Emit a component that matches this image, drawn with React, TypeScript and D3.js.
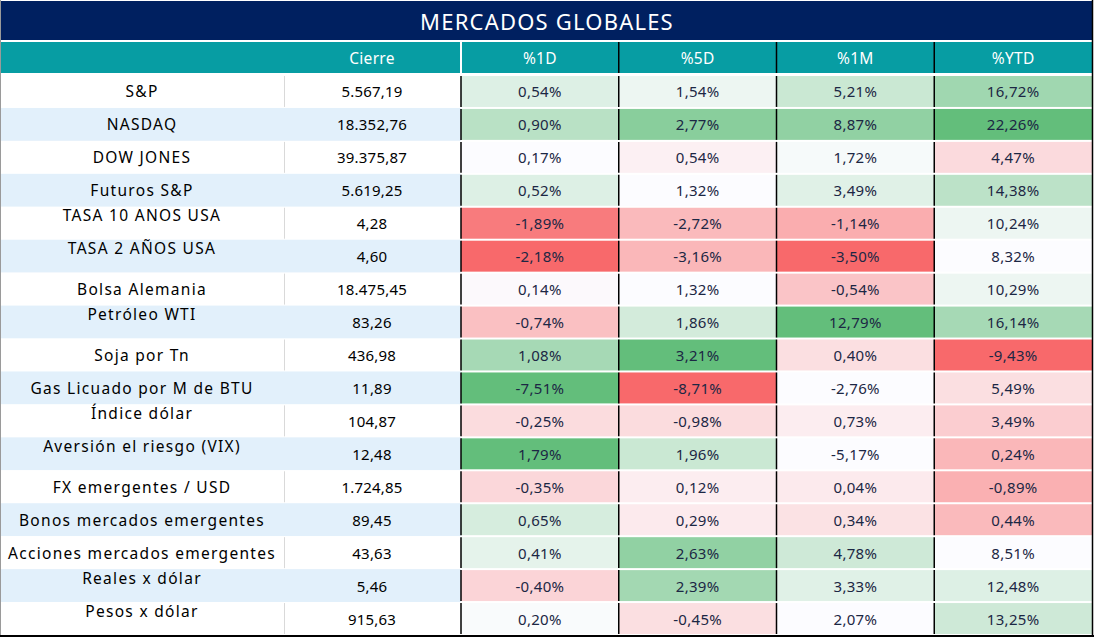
import React from 'react';
import * as d3 from 'd3';

const title = 'MERCADOS GLOBALES';
const closeHeader = 'Cierre';
const columns = ['%1D', '%5D', '%1M', '%YTD'];
const assets = [
  'S&P', 'NASDAQ', 'DOW JONES', 'Futuros S&P', 'TASA 10 ANOS USA', 'TASA 2 AÑOS USA',
  'Bolsa Alemania', 'Petróleo WTI', 'Soja por Tn', 'Gas Licuado por M de BTU', 'Índice dólar',
  'Aversión el riesgo (VIX)', 'FX emergentes / USD', 'Bonos mercados emergentes',
  'Acciones mercados emergentes', 'Reales x dólar', 'Pesos x dólar',
];
const closes = [5567.19, 18352.76, 39375.87, 5619.25, 4.28, 4.6, 18475.45, 83.26, 436.98, 11.89, 104.87, 12.48, 1724.85, 89.45, 43.63, 5.46, 915.63];
const chg1D = [0.54, 0.9, 0.17, 0.52, -1.89, -2.18, 0.14, -0.74, 1.08, -7.51, -0.25, 1.79, -0.35, 0.65, 0.41, -0.4, 0.2];
const chg5D = [1.54, 2.77, 0.54, 1.32, -2.72, -3.16, 1.32, 1.86, 3.21, -8.71, -0.98, 1.96, 0.12, 0.29, 2.63, 2.39, -0.45];
const chg1M = [5.21, 8.87, 1.72, 3.49, -1.14, -3.5, -0.54, 12.79, 0.4, -2.76, 0.73, -5.17, 0.04, 0.34, 4.78, 3.33, 2.07];
const chgYTD = [16.72, 22.26, 4.47, 14.38, 10.24, 8.32, 10.29, 16.14, -9.43, 5.49, 3.49, 0.24, -0.89, 0.44, 8.51, 12.48, 13.25];
// heat level (-1 red … 0 white … 1 green) of each cell
const heat1D = [0.2, 0.44, 0, 0.2, -0.88, -1, -0.02, -0.41, 0.56, 1, -0.22, 1, -0.25, 0.25, 0.15, -0.27, 0.02];
const heat5D = [0.1, 0.75, -0.08, 0, -0.45, -0.47, 0, 0.27, 1, -1, -0.22, 0.33, -0.1, -0.12, 0.7, 0.58, -0.2];
const heat1M = [0.33, 0.7, 0.04, 0.18, -0.54, -1, -0.38, 1, -0.2, 0, -0.1, 0, -0.12, -0.18, 0.3, 0.18, 0];
const heatYTD = [0.6, 1, -0.23, 0.42, 0.1, 0, 0.1, 0.56, -1, -0.2, -0.32, -0.47, -0.52, -0.45, 0, 0.2, 0.3];

const changes = [chg1D, chg5D, chg1M, chgYTD];
const heats = [heat1D, heat5D, heat1M, heatYTD];

const W = 1094;
const H = 637;
const raisedNames = new Set([4, 5, 7, 10, 11, 15, 16]);

const locale = d3.formatLocale({ decimal: ',', thousands: '.', grouping: [3], currency: ['', ''], minus: '-' });
const fmtClose = locale.format(',.2f');
const fmtPct = (v: number) => locale.format('.2f')(v) + '%';

const heatColor = d3.scaleLinear<string>().domain([-1, 0, 1]).range(['#F8696B', '#FCFCFF', '#63BE7B']).interpolate(d3.interpolateRgb);

export default function App() {
  const rows = d3.range(assets.length);
  const y = d3.scaleBand<number>().domain(rows).range([75, 635]).paddingInner(0);
  const x = d3.scaleBand<number>().domain(d3.range(columns.length)).range([461, 1092]).paddingInner(0);
  const rh = y.bandwidth();
  const nameX = 142;
  const closeX = 372;
  const nameFont = "'Noto Sans', sans-serif";
  const numFont = "'Noto Sans', sans-serif";

  return (
    <svg width={W} height={H} style={{ position: 'absolute', left: 0, top: 0, background: '#fff' }}>
      <rect x={0} y={0} width={W} height={H} fill="#fff" />
      {/* title */}
      <rect x={1} y={1} width={1091} height={39} fill="#002060" />
      <text x={547} y={21} fill="#fff" fontFamily={nameFont} fontSize={22} letterSpacing={1.2} textAnchor="middle" dominantBaseline="central">{title}</text>
      {/* header */}
      <rect x={1} y={42} width={1091} height={31} fill="#079DA3" />
      <text x={closeX} y={58} fill="#fff" fontFamily={numFont} fontSize={15.5} letterSpacing={0.3} textAnchor="middle" dominantBaseline="central">{closeHeader}</text>
      {columns.map((c, j) => (
        <text key={c} x={(x(j) as number) + x.bandwidth() / 2} y={58} fill="#fff" fontFamily={numFont} fontSize={15.5} letterSpacing={0.3} textAnchor="middle" dominantBaseline="central">{c}</text>
      ))}
      <line x1={461} x2={461} y1={42} y2={73} stroke="#fff" strokeWidth={2} />
      {columns.slice(1).map((c, j) => (
        <line key={c} x1={(x(j + 1) as number)} x2={(x(j + 1) as number)} y1={42} y2={73} stroke="#000" strokeWidth={1.5} />
      ))}
      {/* rows */}
      {rows.map((i) => {
        const top = y(i) as number;
        const cy = top + rh / 2;
        const band = i % 2 === 1;
        return (
          <g key={i}>
            <rect x={1} y={top} width={460} height={rh} fill={band ? '#E2F0FB' : '#fff'} />
            {!band && <line x1={284.5} x2={284.5} y1={top + 1} y2={top + rh - 1} stroke="#D9D9D9" strokeWidth={1} />}
            <text x={nameX} y={raisedNames.has(i) ? cy - 8 : cy} fill="#000" fontFamily={nameFont} fontSize={15.5} letterSpacing={1.3} textAnchor="middle" dominantBaseline="central">{assets[i]}</text>
            <text x={closeX} y={cy} fill="#000" fontFamily={numFont} fontSize={15} letterSpacing={0.2} textAnchor="middle" dominantBaseline="central">{fmtClose(closes[i])}</text>
            {columns.map((c, j) => (
              <g key={c}>
                <rect x={x(j) as number} y={top + 1} width={x.bandwidth()} height={rh - 2} fill={heatColor(heats[j][i])} />
                <text x={(x(j) as number) + x.bandwidth() / 2} y={cy} fill="#1C2744" fontFamily={numFont} fontSize={15} letterSpacing={0.3} textAnchor="middle" dominantBaseline="central">{fmtPct(changes[j][i])}</text>
              </g>
            ))}
            {columns.map((c, j) => (
              <line key={'v' + c} x1={x(j) as number} x2={x(j) as number} y1={top + 1} y2={top + rh - 1} stroke="#000" strokeWidth={1.5} />
            ))}
          </g>
        );
      })}
      {/* borders */}
      <line x1={0.5} x2={0.5} y1={0} y2={637} stroke="#9a9a9a" strokeWidth={1} />
      <line x1={1092.5} x2={1092.5} y1={0} y2={637} stroke="#000" strokeWidth={1.5} />
      <line x1={0} x2={1094} y1={636} y2={636} stroke="#000" strokeWidth={2} />
    </svg>
  );
}
